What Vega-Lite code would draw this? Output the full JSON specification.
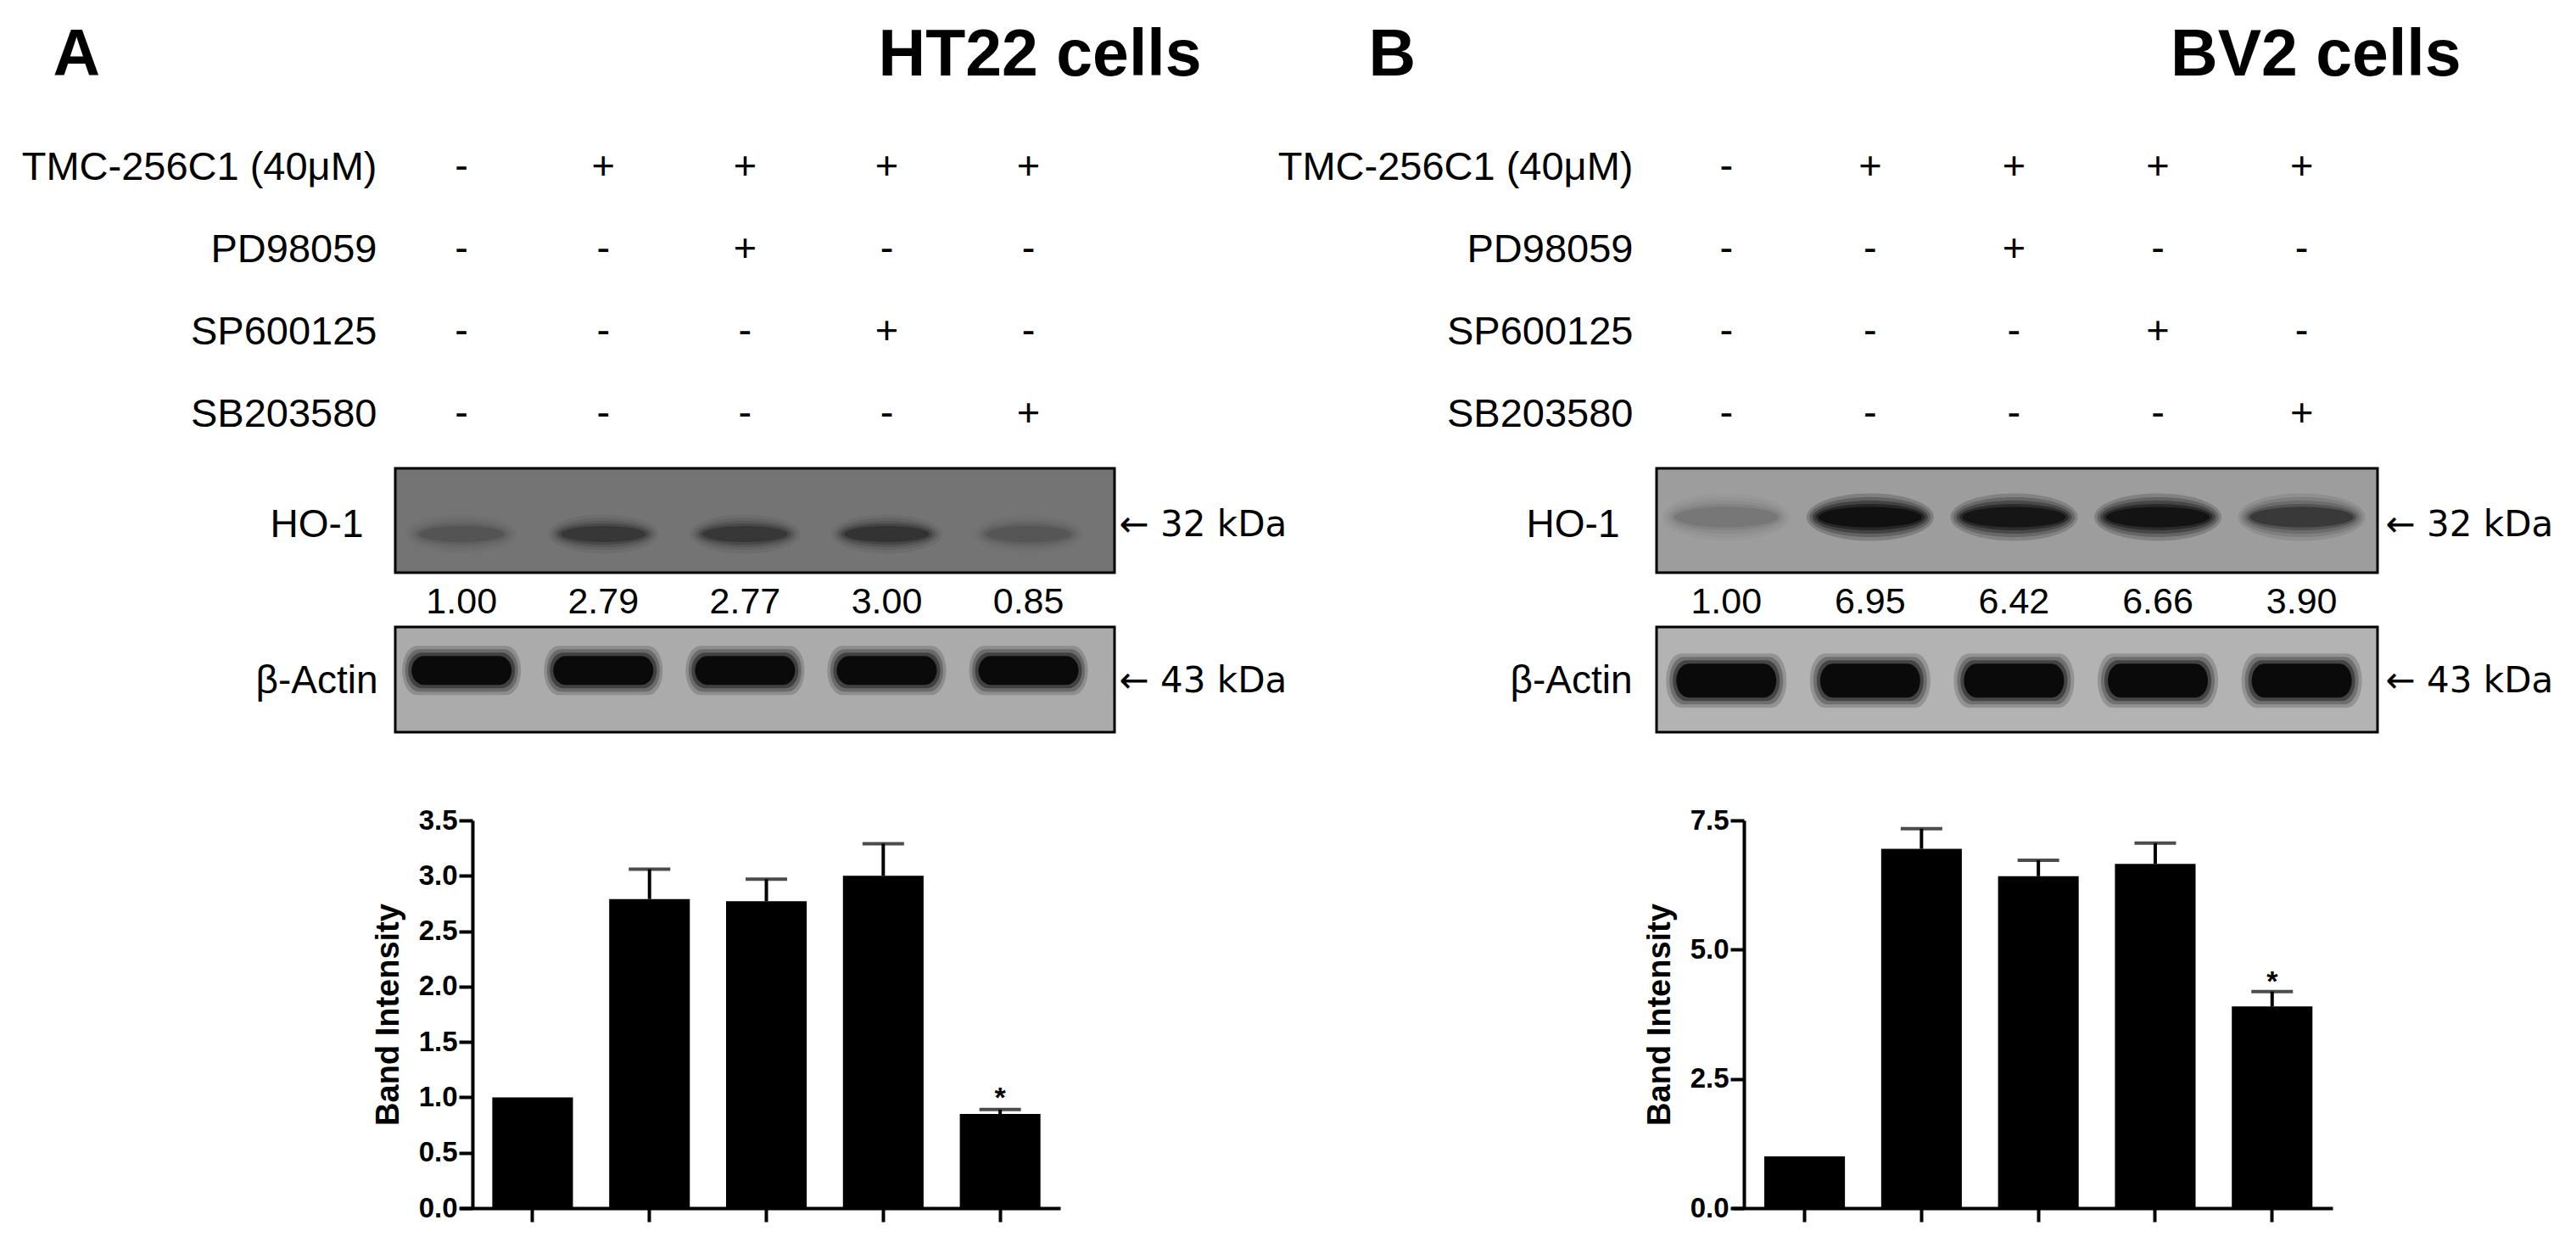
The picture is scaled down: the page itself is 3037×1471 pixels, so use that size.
{
  "$schema": "https://vega.github.io/schema/vega-lite/v6.json",
  "background": "white",
  "padding": {"left": 25, "top": 26, "right": 0, "bottom": 0},
  "autosize": {"type": "pad"},
  "bounds": "flush",
  "columns": 2,
  "spacing": {"row": 0, "column": 639},
  "config": {
    "font": "Liberation Sans",
    "view": {"stroke": null},
    "axis": {"labelLimit": 0, "titleLimit": 0, "labelColor": "black", "titleColor": "black", "domainColor": "black", "tickColor": "black", "grid": false, "labelFont": "Liberation Sans", "titleFont": "Liberation Sans"}
  },
  "datasets": {
    "table": [
      {"treat": "TMC-256C1 (40μM)", "lane": 1, "sign": "-"},
      {"treat": "TMC-256C1 (40μM)", "lane": 2, "sign": "+"},
      {"treat": "TMC-256C1 (40μM)", "lane": 3, "sign": "+"},
      {"treat": "TMC-256C1 (40μM)", "lane": 4, "sign": "+"},
      {"treat": "TMC-256C1 (40μM)", "lane": 5, "sign": "+"},
      {"treat": "PD98059", "lane": 1, "sign": "-"},
      {"treat": "PD98059", "lane": 2, "sign": "-"},
      {"treat": "PD98059", "lane": 3, "sign": "+"},
      {"treat": "PD98059", "lane": 4, "sign": "-"},
      {"treat": "PD98059", "lane": 5, "sign": "-"},
      {"treat": "SP600125", "lane": 1, "sign": "-"},
      {"treat": "SP600125", "lane": 2, "sign": "-"},
      {"treat": "SP600125", "lane": 3, "sign": "-"},
      {"treat": "SP600125", "lane": 4, "sign": "+"},
      {"treat": "SP600125", "lane": 5, "sign": "-"},
      {"treat": "SB203580", "lane": 1, "sign": "-"},
      {"treat": "SB203580", "lane": 2, "sign": "-"},
      {"treat": "SB203580", "lane": 3, "sign": "-"},
      {"treat": "SB203580", "lane": 4, "sign": "-"},
      {"treat": "SB203580", "lane": 5, "sign": "+"}
    ],
    "ht22": [
      {"lane": 1, "ratio": 1.00, "hi": null, "sig": ""},
      {"lane": 2, "ratio": 2.79, "hi": 3.06, "sig": ""},
      {"lane": 3, "ratio": 2.77, "hi": 2.97, "sig": ""},
      {"lane": 4, "ratio": 3.00, "hi": 3.29, "sig": ""},
      {"lane": 5, "ratio": 0.85, "hi": 0.89, "sig": "*"}
    ],
    "bv2": [
      {"lane": 1, "ratio": 1.00, "hi": null, "sig": ""},
      {"lane": 2, "ratio": 6.95, "hi": 7.34, "sig": ""},
      {"lane": 3, "ratio": 6.42, "hi": 6.73, "sig": ""},
      {"lane": 4, "ratio": 6.66, "hi": 7.06, "sig": ""},
      {"lane": 5, "ratio": 3.90, "hi": 4.19, "sig": "*"}
    ]
  },
  "concat": [
    {
      "data": {"name": "table"},
      "width": 848, "height": 405,
      "mark": {"type": "text", "fontSize": 47, "font": "Liberation Sans", "color": "black", "baseline": "middle", "align": "center"},
      "encoding": {
        "x": {"field": "lane", "type": "quantitative", "scale": {"domain": [0.532, 5.607], "nice": false, "zero": false},
          "axis": {"orient": "top", "labels": false, "ticks": false, "domain": false, "title": "HT22 cells", "titleX": 950, "titleY": -59, "titleAlign": "right", "titleAngle": 0, "titleBaseline": "alphabetic", "titleFontSize": 77, "titleFontWeight": "bold"}},
        "y": {"field": "treat", "type": "nominal", "sort": ["TMC-256C1 (40μM)", "PD98059", "SP600125", "SB203580"],
          "scale": {"type": "point", "padding": 0.588, "align": 0.439},
          "axis": {"domain": false, "ticks": false, "labelFontSize": 47, "labelPadding": 22, "title": "A", "titleX": -404, "titleY": -59, "titleAngle": 0, "titleAlign": "left", "titleBaseline": "alphabetic", "titleFontSize": 77, "titleFontWeight": "bold"}},
        "text": {"field": "sign"}
      }
    },
    {
      "data": {"name": "table"},
      "width": 850, "height": 405,
      "mark": {"type": "text", "fontSize": 47, "font": "Liberation Sans", "color": "black", "baseline": "middle", "align": "center"},
      "encoding": {
        "x": {"field": "lane", "type": "quantitative", "scale": {"domain": [0.515, 5.527], "nice": false, "zero": false},
          "axis": {"orient": "top", "labels": false, "ticks": false, "domain": false, "title": "BV2 cells", "titleX": 948, "titleY": -59, "titleAlign": "right", "titleAngle": 0, "titleBaseline": "alphabetic", "titleFontSize": 77, "titleFontWeight": "bold"}},
        "y": {"field": "treat", "type": "nominal", "sort": ["TMC-256C1 (40μM)", "PD98059", "SP600125", "SB203580"],
          "scale": {"type": "point", "padding": 0.588, "align": 0.439},
          "axis": {"domain": false, "ticks": false, "labelFontSize": 47, "labelPadding": 28, "title": "B", "titleX": -340, "titleY": -59, "titleAngle": 0, "titleAlign": "left", "titleBaseline": "alphabetic", "titleFontSize": 77, "titleFontWeight": "bold"}},
        "text": {"field": "sign"}
      }
    },
    {
      "data": {"name": "ht22"},
      "width": 848, "height": 123,
      "view": {"fill": "#747474", "stroke": "black", "strokeWidth": 3},
      "encoding": {
        "x": {"field": "lane", "type": "quantitative", "scale": {"domain": [0.532, 5.607], "nice": false, "zero": false}, "axis": null},
        "fillOpacity": {"field": "ratio", "type": "quantitative", "scale": {"type": "pow", "exponent": 1.5, "domain": [0, 3.0], "range": [0.08, 1]}, "legend": null}
      },
      "layer": [
        {"mark": {"type": "point", "filled": true, "shape": "M-1,0A1,0.354,0,1,0,1,0A1,0.354,0,1,0,-1,0Z", "size": 16900, "color": "#0a0a0a", "opacity": 0.2, "strokeWidth": 0, "yOffset": 11},
         "encoding": {"y": {"datum": "HO-1", "type": "nominal", "scale": {"type": "point", "align": 0.54}, "axis": {"domain": false, "ticks": false, "labelFontSize": 46, "labelPadding": 38, "title": null}}}},
        {"mark": {"type": "point", "filled": true, "shape": "M-1,0A1,0.311,0,1,0,1,0A1,0.311,0,1,0,-1,0Z", "size": 14884, "color": "#0a0a0a", "opacity": 0.28, "strokeWidth": 0, "yOffset": 11},
         "encoding": {"y": {"datum": "HO-1", "type": "nominal", "scale": {"type": "point", "align": 0.54}, "axis": null}}},
        {"mark": {"type": "point", "filled": true, "shape": "M-1,0A1,0.27,0,1,0,1,0A1,0.27,0,1,0,-1,0Z", "size": 13225, "color": "#0a0a0a", "opacity": 0.4, "strokeWidth": 0, "yOffset": 11},
         "encoding": {"y": {"datum": "HO-1", "type": "nominal", "scale": {"type": "point", "align": 0.54}, "axis": null}}},
        {"mark": {"type": "point", "filled": true, "shape": "M-1,0A1,0.231,0,1,0,1,0A1,0.231,0,1,0,-1,0Z", "size": 11664, "color": "#0a0a0a", "opacity": 0.6, "strokeWidth": 0, "yOffset": 11},
         "encoding": {"y": {"datum": "HO-1", "type": "nominal", "scale": {"type": "point", "align": 0.54}, "axis": null}}},
        {"mark": {"type": "point", "filled": true, "shape": "M-1,0A1,0.19,0,1,0,1,0A1,0.19,0,1,0,-1,0Z", "size": 10000, "color": "#0a0a0a", "opacity": 0.9, "strokeWidth": 0, "yOffset": 11},
         "encoding": {"y": {"datum": "← 32 kDa", "type": "nominal", "scale": {"type": "point", "align": 0.54}, "axis": {"orient": "right", "domain": false, "ticks": false, "labelFont": "DejaVu Sans", "labelFontSize": 42, "labelPadding": 5, "title": null}}}}
      ],
      "resolve": {"scale": {"y": "independent"}}
    },
    {
      "data": {"name": "bv2"},
      "width": 850, "height": 123,
      "view": {"fill": "#9d9d9d", "stroke": "black", "strokeWidth": 3},
      "encoding": {
        "x": {"field": "lane", "type": "quantitative", "scale": {"domain": [0.515, 5.527], "nice": false, "zero": false}, "axis": null},
        "fillOpacity": {"field": "ratio", "type": "quantitative", "scale": {"type": "pow", "exponent": 2.5, "domain": [0, 6.95], "range": [0.08, 1]}, "legend": null}
      },
      "layer": [
        {"mark": {"type": "point", "filled": true, "shape": "M-1,0A1,0.373,0,1,0,1,0A1,0.373,0,1,0,-1,0Z", "size": 22500, "color": "#0a0a0a", "opacity": 0.2, "strokeWidth": 0, "yOffset": -9},
         "encoding": {"y": {"datum": "HO-1", "type": "nominal", "scale": {"type": "point", "align": 0.54}, "axis": {"domain": false, "ticks": false, "labelFontSize": 46, "labelPadding": 44, "title": null}}}},
        {"mark": {"type": "point", "filled": true, "shape": "M-1,0A1,0.329,0,1,0,1,0A1,0.329,0,1,0,-1,0Z", "size": 20449, "color": "#0a0a0a", "opacity": 0.25, "strokeWidth": 0, "yOffset": -9},
         "encoding": {"y": {"datum": "HO-1", "type": "nominal", "scale": {"type": "point", "align": 0.54}, "axis": null}}},
        {"mark": {"type": "point", "filled": true, "shape": "M-1,0A1,0.287,0,1,0,1,0A1,0.287,0,1,0,-1,0Z", "size": 18496, "color": "#0a0a0a", "opacity": 0.35, "strokeWidth": 0, "yOffset": -9},
         "encoding": {"y": {"datum": "HO-1", "type": "nominal", "scale": {"type": "point", "align": 0.54}, "axis": null}}},
        {"mark": {"type": "point", "filled": true, "shape": "M-1,0A1,0.24,0,1,0,1,0A1,0.24,0,1,0,-1,0Z", "size": 16641, "color": "#0a0a0a", "opacity": 0.5, "strokeWidth": 0, "yOffset": -9},
         "encoding": {"y": {"datum": "HO-1", "type": "nominal", "scale": {"type": "point", "align": 0.54}, "axis": null}}},
        {"mark": {"type": "point", "filled": true, "shape": "M-1,0A1,0.197,0,1,0,1,0A1,0.197,0,1,0,-1,0Z", "size": 14884, "color": "#0a0a0a", "opacity": 0.75, "strokeWidth": 0, "yOffset": -9},
         "encoding": {"y": {"datum": "← 32 kDa", "type": "nominal", "scale": {"type": "point", "align": 0.54}, "axis": {"orient": "right", "domain": false, "ticks": false, "labelFont": "DejaVu Sans", "labelFontSize": 42, "labelPadding": 9, "title": null}}}}
      ],
      "resolve": {"scale": {"y": "independent"}}
    },
    {
      "data": {"name": "ht22"},
      "width": 848, "height": 64,
      "mark": {"type": "text", "fontSize": 43, "baseline": "middle", "align": "center", "dy": 3, "color": "black"},
      "encoding": {
        "x": {"field": "lane", "type": "quantitative", "scale": {"domain": [0.532, 5.607], "nice": false, "zero": false}, "axis": null},
        "y": {"datum": "ratio", "type": "nominal", "axis": null},
        "text": {"field": "ratio", "type": "quantitative", "format": ".2f"}
      }
    },
    {
      "data": {"name": "bv2"},
      "width": 850, "height": 64,
      "mark": {"type": "text", "fontSize": 43, "baseline": "middle", "align": "center", "dy": 3, "color": "black"},
      "encoding": {
        "x": {"field": "lane", "type": "quantitative", "scale": {"domain": [0.515, 5.527], "nice": false, "zero": false}, "axis": null},
        "y": {"datum": "ratio", "type": "nominal", "axis": null},
        "text": {"field": "ratio", "type": "quantitative", "format": ".2f"}
      }
    },
    {
      "data": {"name": "ht22"},
      "width": 848, "height": 124,
      "view": {"fill": "#ababab", "stroke": "black", "strokeWidth": 3},
      "encoding": {
        "x": {"field": "lane", "type": "quantitative", "scale": {"domain": [0.532, 5.607], "nice": false, "zero": false}, "axis": null}
      },
      "layer": [
        {"mark": {"type": "point", "filled": true, "shape": "M-0.75,-0.414L0.75,-0.414A0.25,0.414,0,0,1,0.75,0.414L-0.75,0.414A0.25,0.414,0,0,1,-0.75,-0.414Z", "size": 19600, "color": "#050505", "opacity": 0.18, "strokeWidth": 0, "yOffset": -12},
         "encoding": {"y": {"datum": "β-Actin", "type": "nominal", "scale": {"type": "point", "align": 0.51}, "axis": {"domain": false, "ticks": false, "labelFontSize": 46, "labelPadding": 21, "title": null}}}},
        {"mark": {"type": "point", "filled": true, "shape": "M-0.75,-0.376L0.75,-0.376A0.25,0.376,0,0,1,0.75,0.376L-0.75,0.376A0.25,0.376,0,0,1,-0.75,-0.376Z", "size": 17689, "color": "#050505", "opacity": 0.25, "strokeWidth": 0, "yOffset": -12},
         "encoding": {"y": {"datum": "β-Actin", "type": "nominal", "scale": {"type": "point", "align": 0.51}, "axis": null}}},
        {"mark": {"type": "point", "filled": true, "shape": "M-0.75,-0.333L0.75,-0.333A0.25,0.333,0,0,1,0.75,0.333L-0.75,0.333A0.25,0.333,0,0,1,-0.75,-0.333Z", "size": 15876, "color": "#050505", "opacity": 0.4, "strokeWidth": 0, "yOffset": -12},
         "encoding": {"y": {"datum": "β-Actin", "type": "nominal", "scale": {"type": "point", "align": 0.51}, "axis": null}}},
        {"mark": {"type": "point", "filled": true, "shape": "M-0.75,-0.288L0.75,-0.288A0.25,0.288,0,0,1,0.75,0.288L-0.75,0.288A0.25,0.288,0,0,1,-0.75,-0.288Z", "size": 13924, "color": "#050505", "opacity": 0.92, "strokeWidth": 0, "yOffset": -12},
         "encoding": {"y": {"datum": "← 43 kDa", "type": "nominal", "scale": {"type": "point", "align": 0.51}, "axis": {"orient": "right", "domain": false, "ticks": false, "labelFont": "DejaVu Sans", "labelFontSize": 42, "labelPadding": 5, "title": null}}}}
      ],
      "resolve": {"scale": {"y": "independent"}}
    },
    {
      "data": {"name": "bv2"},
      "width": 850, "height": 124,
      "view": {"fill": "#b3b3b3", "stroke": "black", "strokeWidth": 3},
      "encoding": {
        "x": {"field": "lane", "type": "quantitative", "scale": {"domain": [0.515, 5.527], "nice": false, "zero": false}, "axis": null}
      },
      "layer": [
        {"mark": {"type": "point", "filled": true, "shape": "M-0.75,-0.45L0.75,-0.45A0.25,0.45,0,0,1,0.75,0.45L-0.75,0.45A0.25,0.45,0,0,1,-0.75,-0.45Z", "size": 20164, "color": "#050505", "opacity": 0.18, "strokeWidth": 0, "yOffset": 0},
         "encoding": {"y": {"datum": "β-Actin", "type": "nominal", "scale": {"type": "point", "align": 0.51}, "axis": {"domain": false, "ticks": false, "labelFontSize": 46, "labelPadding": 29, "title": null}}}},
        {"mark": {"type": "point", "filled": true, "shape": "M-0.75,-0.418L0.75,-0.418A0.25,0.418,0,0,1,0.75,0.418L-0.75,0.418A0.25,0.418,0,0,1,-0.75,-0.418Z", "size": 17956, "color": "#050505", "opacity": 0.25, "strokeWidth": 0, "yOffset": 0},
         "encoding": {"y": {"datum": "β-Actin", "type": "nominal", "scale": {"type": "point", "align": 0.51}, "axis": null}}},
        {"mark": {"type": "point", "filled": true, "shape": "M-0.75,-0.381L0.75,-0.381A0.25,0.381,0,0,1,0.75,0.381L-0.75,0.381A0.25,0.381,0,0,1,-0.75,-0.381Z", "size": 15876, "color": "#050505", "opacity": 0.4, "strokeWidth": 0, "yOffset": 0},
         "encoding": {"y": {"datum": "β-Actin", "type": "nominal", "scale": {"type": "point", "align": 0.51}, "axis": null}}},
        {"mark": {"type": "point", "filled": true, "shape": "M-0.75,-0.339L0.75,-0.339A0.25,0.339,0,0,1,0.75,0.339L-0.75,0.339A0.25,0.339,0,0,1,-0.75,-0.339Z", "size": 13924, "color": "#050505", "opacity": 0.92, "strokeWidth": 0, "yOffset": 0},
         "encoding": {"y": {"datum": "← 43 kDa", "type": "nominal", "scale": {"type": "point", "align": 0.51}, "axis": {"orient": "right", "domain": false, "ticks": false, "labelFont": "DejaVu Sans", "labelFontSize": 42, "labelPadding": 9, "title": null}}}}
      ],
      "resolve": {"scale": {"y": "independent"}}
    },
    {
      "data": {"name": "ht22"},
      "width": 784, "height": 561,
      "encoding": {
        "x": {"field": "lane", "type": "ordinal", "scale": {"type": "band", "range": [76, 784], "paddingInner": 0.31, "paddingOuter": 0.224, "align": 0.622},
          "axis": {"labels": false, "title": null, "domainWidth": 4, "tickWidth": 4, "tickSize": 16}}
      },
      "layer": [
        {"mark": {"type": "bar", "color": "black"},
         "encoding": {"y": {"field": "ratio", "type": "quantitative", "scale": {"domain": [0, 3.5], "range": [561, 104], "nice": false, "zero": true},
           "axis": {"values": [0, 0.5, 1, 1.5, 2, 2.5, 3, 3.5], "format": ".1f", "offset": -91, "domainWidth": 4, "tickWidth": 4, "tickSize": 16, "labelFontSize": 33, "labelFontWeight": "bold", "labelPadding": 2, "title": "Band Intensity", "titleFontSize": 38, "titleFontWeight": "bold", "titlePadding": 16}}}},
        {"transform": [{"filter": "datum.hi != null"}],
         "mark": {"type": "rule", "strokeWidth": 4, "color": "black"},
         "encoding": {"y": {"field": "ratio", "type": "quantitative"}, "y2": {"field": "hi"}}},
        {"transform": [{"filter": "datum.hi != null"}],
         "mark": {"type": "tick", "size": 49, "thickness": 4, "color": "black"},
         "encoding": {"y": {"field": "hi", "type": "quantitative"}}},
        {"transform": [{"filter": "datum.sig != ''"}],
         "mark": {"type": "text", "fontSize": 34, "fontWeight": "bold", "baseline": "alphabetic", "dy": -3, "color": "black"},
         "encoding": {"y": {"field": "hi", "type": "quantitative"}, "text": {"field": "sig"}}}
      ]
    },
    {
      "data": {"name": "bv2"},
      "width": 797, "height": 561,
      "encoding": {
        "x": {"field": "lane", "type": "ordinal", "scale": {"type": "band", "range": [89, 797], "paddingInner": 0.31, "paddingOuter": 0.224, "align": 0.616},
          "axis": {"labels": false, "title": null, "domainWidth": 4, "tickWidth": 4, "tickSize": 16}}
      },
      "layer": [
        {"mark": {"type": "bar", "color": "black"},
         "encoding": {"y": {"field": "ratio", "type": "quantitative", "scale": {"domain": [0, 7.5], "range": [561, 104], "nice": false, "zero": true},
           "axis": {"values": [0, 2.5, 5, 7.5], "format": ".1f", "offset": -103, "domainWidth": 4, "tickWidth": 4, "tickSize": 16, "labelFontSize": 33, "labelFontWeight": "bold", "labelPadding": 2, "title": "Band Intensity", "titleFontSize": 38, "titleFontWeight": "bold", "titlePadding": 16}}}},
        {"transform": [{"filter": "datum.hi != null"}],
         "mark": {"type": "rule", "strokeWidth": 4, "color": "black"},
         "encoding": {"y": {"field": "ratio", "type": "quantitative"}, "y2": {"field": "hi"}}},
        {"transform": [{"filter": "datum.hi != null"}],
         "mark": {"type": "tick", "size": 49, "thickness": 4, "color": "black"},
         "encoding": {"y": {"field": "hi", "type": "quantitative"}}},
        {"transform": [{"filter": "datum.sig != ''"}],
         "mark": {"type": "text", "fontSize": 34, "fontWeight": "bold", "baseline": "alphabetic", "dy": -1, "color": "black"},
         "encoding": {"y": {"field": "hi", "type": "quantitative"}, "text": {"field": "sig"}}}
      ]
    }
  ]
}
